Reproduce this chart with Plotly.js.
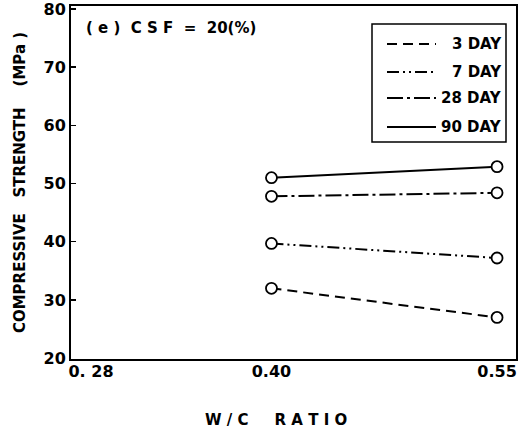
<!DOCTYPE html>
<html><head><meta charset="utf-8">
<script src="https://cdn.plot.ly/plotly-3.0.1.min.js"></script>
<style>body{margin:0;background:#fff}#chart{width:523px;height:435px}</style>
</head><body><div id="chart"></div>
<script>
const wcRatio = [0.40, 0.55];
const day3 = [32.0, 27.0];
const day7 = [39.7, 37.2];
const day28 = [47.8, 48.4];
const day90 = [51.0, 52.9];
const seriesNames = ['3 DAY', '7 DAY', '28 DAY', '90 DAY'];
const xTickVals = [0.28, 0.40, 0.55];
const xTickText = ['0. 28', '0.40', '0.55'];
const yTickVals = [20, 30, 40, 50, 60, 70, 80];

const dashes = ['10px,6px', '12px,4px,2px,4px,2px,4px', '16px,4px,3px,4px', 'solid'];
const allSeries = [day3, day7, day28, day90];
const FONT = 'DejaVu Sans';
const bold = (s) => ({family: FONT, size: s, color: '#000', weight: 'bold'});

const traces = allSeries.map((vals, i) => ({
  x: wcRatio, y: vals, type: 'scatter', mode: 'lines+markers',
  name: seriesNames[i], showlegend: false, cliponaxis: false,
  line: {color: '#000', width: 2, dash: dashes[i]},
  marker: {symbol: 'circle', size: 11, color: '#fff', line: {width: 1.8, color: '#000'}}
}));

const L = 71, R = 7, T = 6, B = 76, W = 523, H = 435;
const pw = W - L - R, ph = H - T - B;
const px = v => (v - L) / pw;
const py = v => (H - B - v) / ph;

const shapes = [{
  type: 'rect', xref: 'paper', yref: 'paper',
  x0: px(372), x1: px(506), y0: py(142), y1: py(24),
  line: {color: '#000', width: 1.5}, fillcolor: '#fff'
}];
const legY = [44, 72, 98, 127];
const annotations = [{
  xref: 'paper', yref: 'paper', x: px(84), y: py(28), xanchor: 'left', yanchor: 'middle',
  text: '( e )  C S F  =  20(%)', showarrow: false, font: bold(15)
}, {
  xref: 'paper', yref: 'paper', x: px(276), y: py(420), xanchor: 'center', yanchor: 'middle',
  text: 'W / C     R A T I O', showarrow: false, font: bold(15)
}];
seriesNames.forEach((n, i) => {
  shapes.push({type: 'line', xref: 'paper', yref: 'paper',
    x0: px(387), x1: px(436), y0: py(legY[i]), y1: py(legY[i]),
    line: {color: '#000', width: 2, dash: dashes[i]}});
  annotations.push({xref: 'paper', yref: 'paper', x: px(504), y: py(legY[i]),
    xanchor: 'right', yanchor: 'middle', text: n, showarrow: false, font: bold(15)});
});

const layout = {
  width: W, height: H,
  margin: {l: L, r: R, t: T, b: B},
  paper_bgcolor: '#fff', plot_bgcolor: '#fff',
  showlegend: false,
  font: bold(15),
  xaxis: {
    range: [0.2667, 0.5626], tickvals: xTickVals, ticktext: xTickText,
    showgrid: false, zeroline: false, showline: true, mirror: true,
    linecolor: '#000', linewidth: 2, ticks: '', ticklabelstandoff: -3,
    tickfont: bold(16)
  },
  yaxis: {
    range: [19.85, 80.5], tickvals: yTickVals, ticklabeloverflow: 'allow',
    showgrid: false, zeroline: false, showline: true, mirror: true,
    linecolor: '#000', linewidth: 2, ticks: 'inside', ticklen: 5, tickwidth: 1.5, tickcolor: '#000',
    tickfont: bold(16), ticklabelstandoff: 0,
    title: {text: 'COMPRESSIVE   STRENGTH    (MPa )', standoff: 14, font: bold(15)}
  },
  shapes: shapes,
  annotations: annotations
};

Plotly.newPlot('chart', traces, layout, {displayModeBar: false, staticPlot: true});
</script></body></html>
